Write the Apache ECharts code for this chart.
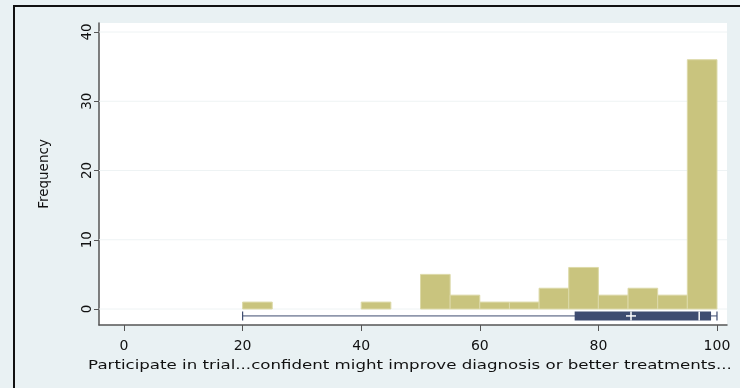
<!DOCTYPE html>
<html><head><meta charset="utf-8">
<script src="https://cdn.jsdelivr.net/npm/echarts@6/dist/echarts.min.js"></script>
<style>html,body{margin:0;padding:0;background:#e9f1f3}#c{width:740px;height:388px}</style>
</head><body><div id="c"></div>
<script>
// Histogram bins (start, end) and frequencies
const binStarts = [20, 40, 50, 55, 60, 65, 70, 75, 80, 85, 90, 95];
const binWidth = 5;
const frequencies = [1, 1, 5, 2, 1, 1, 3, 6, 2, 3, 2, 36];
// Box plot summary
const boxMin = 20, boxQ1 = 76, boxMedian = 97, boxQ3 = 99, boxMax = 100, boxMean = 85.5;
const boxLevel = -1.0;
// Tick labels
const xTicks = [0, 20, 40, 60, 80, 100];
const yTicks = [0, 10, 20, 30, 40];
const xTitle = 'Participate in trial...confident might improve diagnosis or better treatments...';
const yTitle = 'Frequency';

const font = 'DejaVu Sans';
const textColor = '#111111';
const chart = echarts.init(document.getElementById('c'), null, {renderer: 'canvas'});
const histData = binStarts.map((s, i) => [s, s + binWidth, frequencies[i]]);

chart.setOption({
  animation: false,
  backgroundColor: '#e9f1f3',
  graphic: [
    {type: 'line', shape: {x1: 14, y1: 5, x2: 14, y2: 388}, style: {stroke: '#111', lineWidth: 2}},
    {type: 'line', shape: {x1: 13, y1: 6, x2: 740, y2: 6}, style: {stroke: '#111', lineWidth: 2}},
    {type: 'text', x: 410, y: 366, scaleX: 1.33,
      style: {text: xTitle, x: 0, y: 0, align: 'center', verticalAlign: 'middle',
        font: '12.5px "DejaVu Sans"', fill: textColor}}
  ],
  grid: {left: 99, right: 13, top: 23, bottom: 63, show: true, backgroundColor: '#ffffff', borderWidth: 0},
  xAxis: {
    type: 'value', min: -4.22, max: 101.69,
    axisLine: {show: true, onZero: false, lineStyle: {color: '#555', width: 1.5}},
    axisTick: {show: true, customValues: xTicks, length: 6, lineStyle: {color: '#555'}},
    axisLabel: {customValues: xTicks, fontFamily: font, fontSize: 14, color: textColor, margin: 14},
    splitLine: {show: false}
  },
  yAxis: {
    type: 'value', min: -2.31, max: 41.3,
    name: yTitle, nameLocation: 'middle', nameGap: 48, nameRotate: 90,
    nameTextStyle: {fontFamily: font, fontSize: 13.5, color: textColor},
    axisLine: {show: true, onZero: false, lineStyle: {color: '#555', width: 1.5}},
    axisTick: {show: true, customValues: yTicks, length: 5, lineStyle: {color: '#555'}},
    axisLabel: {customValues: yTicks, rotate: 90, fontFamily: font, fontSize: 13.5, color: textColor, margin: 5},
    splitLine: {show: false}
  },
  series: [
    {
      type: 'custom', silent: true, z: 1,
      data: yTicks.map(v => [v]),
      renderItem: function (params, api) {
        const p1 = api.coord([-4.22, api.value(0)]);
        const p2 = api.coord([101.69, api.value(0)]);
        return {type: 'line', shape: {x1: p1[0], y1: p1[1], x2: p2[0], y2: p2[1]}, style: {stroke: '#eef3f4', lineWidth: 1}};
      }
    },
    {
      type: 'custom', z: 3,
      data: histData,
      renderItem: function (params, api) {
        const a = api.coord([api.value(0), api.value(2)]);
        const b = api.coord([api.value(1), 0]);
        return {type: 'rect', shape: {x: a[0], y: a[1], width: b[0] - a[0], height: b[1] - a[1]},
          style: {fill: '#c9c47e', stroke: '#dcd9a8', lineWidth: 1}};
      }
    },
    {
      type: 'custom', z: 4,
      data: [[boxMin, boxQ1, boxMedian, boxQ3, boxMax, boxMean, boxLevel]],
      renderItem: function (params, api) {
        const y = api.coord([0, api.value(6)])[1];
        const X = i => api.coord([api.value(i), 0])[0];
        const xmin = X(0), xq1 = X(1), xmed = X(2), xq3 = X(3), xmax = X(4), xmean = X(5);
        const navy = '#3e4c70';
        const h = 9, cap = 9;
        return {type: 'group', children: [
          {type: 'line', shape: {x1: xmin, y1: y, x2: xmax, y2: y}, style: {stroke: navy, lineWidth: 1}},
          {type: 'line', shape: {x1: xmin, y1: y - cap / 2, x2: xmin, y2: y + cap / 2}, style: {stroke: navy, lineWidth: 1.2}},
          {type: 'line', shape: {x1: xmax, y1: y - cap / 2, x2: xmax, y2: y + cap / 2}, style: {stroke: navy, lineWidth: 1.2}},
          {type: 'rect', shape: {x: xq1, y: y - h / 2, width: xq3 - xq1, height: h}, style: {fill: navy}},
          {type: 'line', shape: {x1: xmed, y1: y - h / 2, x2: xmed, y2: y + h / 2}, style: {stroke: '#ffffff', lineWidth: 1.5}},
          {type: 'line', shape: {x1: xmean - 5, y1: y, x2: xmean + 5, y2: y}, style: {stroke: '#ffffff', lineWidth: 1.5}},
          {type: 'line', shape: {x1: xmean, y1: y - h / 2, x2: xmean, y2: y + h / 2}, style: {stroke: '#ffffff', lineWidth: 1.5}}
        ]};
      }
    }
  ]
});
</script></body></html>
